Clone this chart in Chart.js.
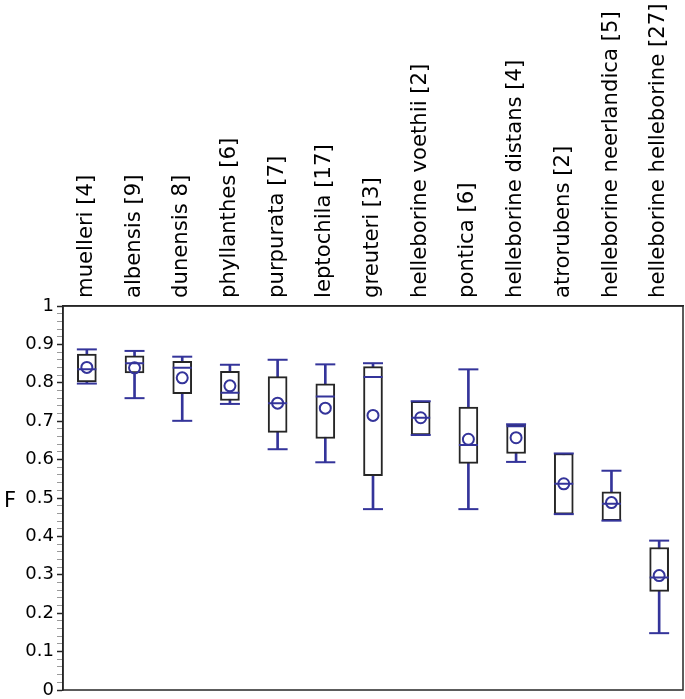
<!DOCTYPE html>
<html>
<head>
<meta charset="utf-8">
<script src="https://cdn.jsdelivr.net/npm/chart.js@4"></script>
<style>
  html, body { margin: 0; padding: 0; background: #fff; }
  #wrap { width: 685px; height: 699px; }
</style>
</head>
<body>
<div id="wrap"><canvas id="mycanvas" width="685" height="699"></canvas></div>
<script>
// taxa, n in brackets (label text kept as printed)
var taxa = ['muelleri [4]', 'albensis [9]', 'dunensis 8]', 'phyllanthes [6]', 'purpurata [7]',
  'leptochila [17]', 'greuteri [3]', 'helleborine voethii [2]', 'pontica [6]',
  'helleborine distans [4]', 'atrorubens [2]', 'helleborine neerlandica [5]', 'helleborine helleborine [27]'];

// box plot stats for F
var fMin    = [0.798, 0.760, 0.701, 0.745, 0.627, 0.593, 0.471, 0.664, 0.471, 0.594, 0.458, 0.441, 0.148];
var fQ1     = [0.802, 0.826, 0.772, 0.754, 0.671, 0.655, 0.558, 0.664, 0.590, 0.616, 0.458, 0.441, 0.257];
var fMedian = [0.835, 0.851, 0.839, 0.774, 0.747, 0.764, 0.815, 0.709, 0.638, 0.687, 0.537, 0.485, 0.293];
var fQ3     = [0.875, 0.870, 0.856, 0.830, 0.816, 0.797, 0.842, 0.752, 0.737, 0.689, 0.616, 0.516, 0.371];
var fMax    = [0.887, 0.883, 0.868, 0.847, 0.860, 0.848, 0.851, 0.752, 0.835, 0.692, 0.616, 0.571, 0.389];
var fMean   = [0.840, 0.839, 0.813, 0.792, 0.747, 0.734, 0.715, 0.709, 0.653, 0.657, 0.537, 0.488, 0.298];

var blue = '#34349a';
var dark = '#262626';
var font = "'DejaVu Sans', sans-serif";

var boxes = [], stems = [];
for (var i in taxa) {
  boxes.push([fQ1[i], fQ3[i]]);
  stems.push([fMin[i], fMax[i]]);
}

function points(vals, style, radius, width, order) {
  return {
    type: 'line',
    data: vals,
    showLine: false,
    order: order,
    pointStyle: style,
    pointRadius: radius,
    pointHoverRadius: radius,
    pointBorderColor: blue,
    pointBackgroundColor: 'rgba(0,0,0,0)',
    pointBorderWidth: width,
    pointHoverBorderWidth: width
  };
}

// frame round the plot and the upright "F" axis name
var extras = {
  id: 'extras',
  afterDraw: function(chart) {
    var ctx = chart.ctx, a = chart.chartArea;
    ctx.save();
    ctx.strokeStyle = dark;
    ctx.lineWidth = 1.5;
    ctx.strokeRect(a.left, a.top, a.right - a.left, a.bottom - a.top);
    ctx.fillStyle = '#000';
    ctx.font = '21px ' + font;
    ctx.textAlign = 'center';
    ctx.textBaseline = 'middle';
    ctx.fillText('F', 10, chart.scales.y.getPixelForValue(0.49));
    ctx.restore();
  }
};

var ctx = document.getElementById('mycanvas');

var chart = new Chart(ctx, {
  type: 'bar',
  data: {
    labels: taxa,
    datasets: [
      points(fMean, 'circle', 5.5, 2, 0),
      points(fMedian, 'line', 9.5, 2, 1),
      points(fMax, 'line', 10, 2, 2),
      points(fMin, 'line', 10, 2, 2),
      {
        data: boxes,
        order: 3,
        grouped: false,
        barThickness: 19,
        backgroundColor: '#fff',
        borderColor: dark,
        borderWidth: 2,
        borderSkipped: false
      },
      {
        data: stems,
        order: 4,
        grouped: false,
        barThickness: 2,
        backgroundColor: blue,
        borderWidth: 0
      }
    ]
  },
  plugins: [extras],
  options: {
    responsive: false,
    animation: false,
    events: [],
    layout: { autoPadding: false, padding: { left: 0, right: 2, top: 0, bottom: 9 } },
    plugins: {
      legend: { display: false },
      tooltip: { enabled: false }
    },
    scales: {
      x: {
        position: 'top',
        grid: { display: false, drawTicks: false },
        border: { display: true, color: dark, width: 1.5 },
        ticks: {
          color: '#000',
          font: { family: font, size: 21.2 },
          minRotation: 90,
          maxRotation: 90,
          autoSkip: false,
          padding: 8,
          labelOffset: 25
        },
        afterFit: function(scale) {
          scale.height = 306;
          scale.paddingLeft = 0;
          scale.paddingRight = 0;
        }
      },
      y: {
        min: 0,
        max: 1,
        grid: {
          drawOnChartArea: false,
          tickLength: 6,
          tickColor: function(c) {
            return Math.round(c.tick.value * 100) % 10 === 0 ? dark : '#9a9a9a';
          },
          tickWidth: function(c) {
            return Math.round(c.tick.value * 100) % 10 === 0 ? 1.5 : 1;
          }
        },
        border: { display: true, color: dark, width: 1.5 },
        ticks: {
          stepSize: 0.02,
          autoSkip: false,
          color: '#000',
          padding: 3,
          font: { family: font, size: 18 },
          callback: function(value) {
            var v = Math.round(value * 100);
            if (v % 10 !== 0) return '';
            return String(v / 100);
          }
        },
        afterFit: function(scale) {
          scale.width = 63;
          scale.paddingTop = 0;
          scale.paddingBottom = 0;
        }
      }
    }
  }
});
</script>
</body>
</html>
